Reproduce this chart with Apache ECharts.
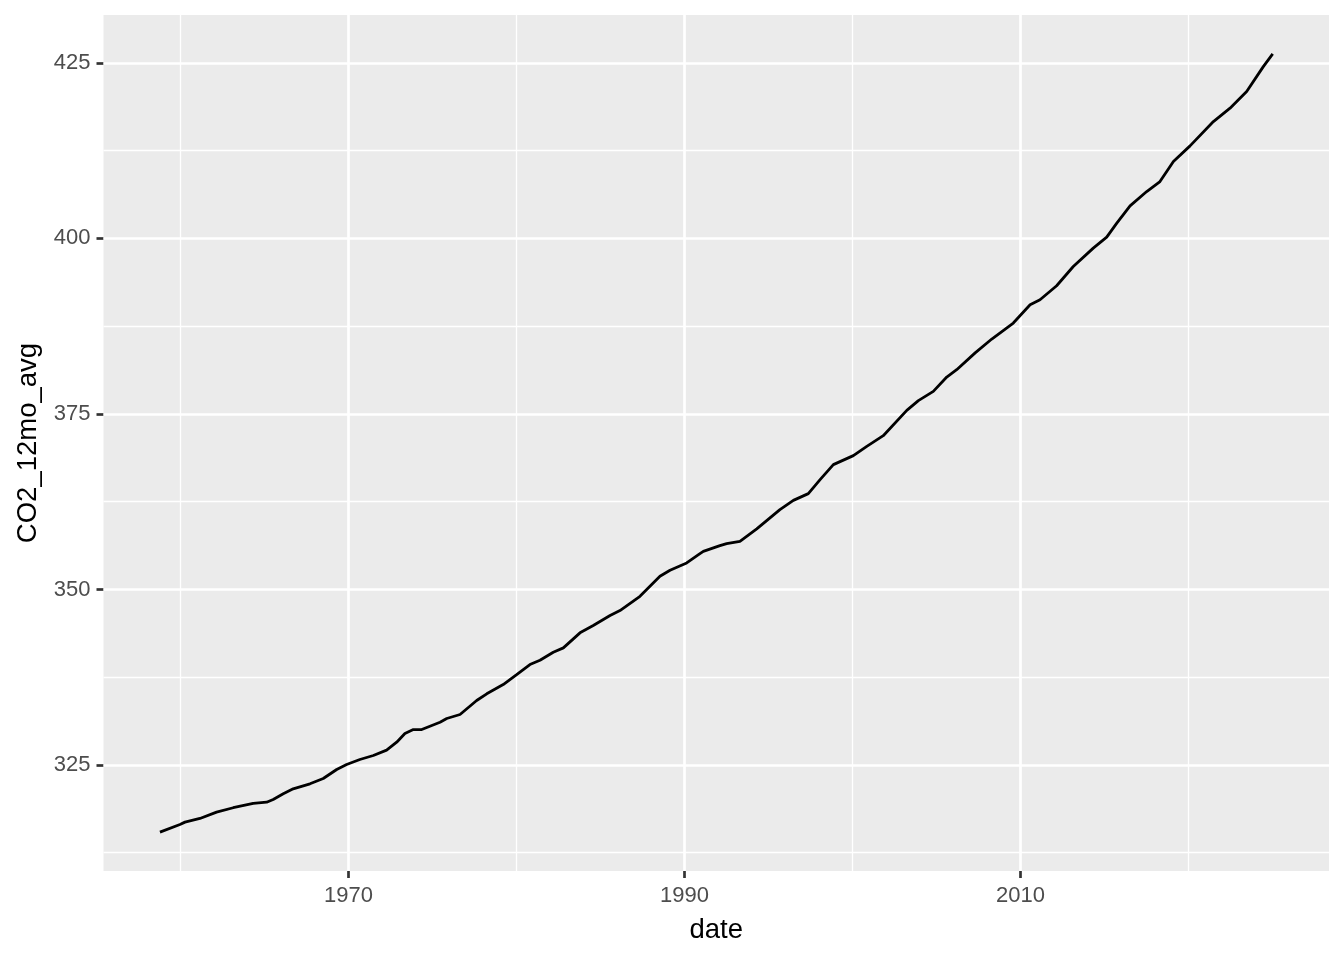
<!DOCTYPE html>
<html>
<head>
<meta charset="utf-8">
<script src="https://cdn.jsdelivr.net/npm/echarts@6/dist/echarts.min.js"></script>
<style>
html,body{margin:0;padding:0;background:#ffffff;}
#chart{width:1344px;height:960px;}
</style>
</head>
<body>
<div id="chart"></div>
<script>
// Decimal years
const years = [
  1958.78, 1959.97, 1960.27, 1961.16, 1962.15, 1963.14, 1964.33, 1965.13, 1965.52, 1966.12,
  1966.71, 1967.71, 1968.50, 1969.30, 1969.89, 1970.68, 1971.48, 1972.27, 1972.87, 1973.36,
  1973.86, 1974.36, 1974.85, 1975.45, 1975.85, 1976.64, 1977.63, 1978.23, 1979.21, 1980.01,
  1980.80, 1981.40, 1982.19, 1982.79, 1983.78, 1984.57, 1985.57, 1986.16, 1987.35, 1988.54,
  1989.14, 1990.13, 1990.92, 1991.12, 1992.11, 1992.51, 1993.30, 1994.30, 1995.68, 1996.48,
  1997.37, 1998.07, 1998.86, 2000.05, 2000.85, 2001.83, 2003.23, 2003.92, 2004.81, 2005.61,
  2006.20, 2007.30, 2008.29, 2009.57, 2010.57, 2011.16, 2012.15, 2013.14, 2014.33, 2015.13,
  2015.73, 2016.52, 2017.51, 2018.30, 2019.10, 2020.09, 2021.48, 2022.47, 2023.46, 2024.45,
  2025.01
];
// 12-month average CO2 (ppm)
const co2 = [
  315.43, 316.53, 316.86, 317.38, 318.28, 318.91, 319.52, 319.70, 320.09, 320.90,
  321.61, 322.32, 323.08, 324.36, 325.07, 325.78, 326.35, 327.11, 328.25, 329.48,
  330.05, 330.05, 330.52, 331.09, 331.62, 332.19, 334.18, 335.14, 336.46, 337.88,
  339.31, 339.92, 341.06, 341.68, 343.82, 344.86, 346.28, 346.99, 349.03, 351.88,
  352.73, 353.78, 355.11, 355.43, 356.25, 356.53, 356.86, 358.62, 361.37, 362.69,
  363.65, 365.64, 367.78, 369.06, 370.38, 371.90, 375.51, 376.89, 378.21, 380.26,
  381.30, 383.70, 385.67, 387.95, 390.55, 391.26, 393.26, 396.00, 398.62, 400.19,
  402.18, 404.64, 406.68, 408.10, 410.95, 413.18, 416.64, 418.55, 420.91, 424.47,
  426.28
];
const xTicks = [1970, 1990, 2010];
const xMinor = [1960, 1980, 2000, 2020];
const yTicks = [325, 350, 375, 400, 425];
const yMinor = [312.5, 337.5, 362.5, 387.5, 412.5];

const FONT = '"Liberation Sans", Arial, sans-serif';
const seriesData = years.map((y, i) => [y, co2[i]]);

const gridLines = [];
xMinor.forEach(v => gridLines.push({xAxis: v, lineStyle: {color: '#FFFFFF', width: 1.35, type: 'solid'}}));
yMinor.forEach(v => gridLines.push({yAxis: v, lineStyle: {color: '#FFFFFF', width: 1.35, type: 'solid'}}));
xTicks.forEach(v => gridLines.push({xAxis: v, lineStyle: {color: '#FFFFFF', width: 2.7, type: 'solid'}}));
yTicks.forEach(v => gridLines.push({yAxis: v, lineStyle: {color: '#FFFFFF', width: 2.7, type: 'solid'}}));

const chart = echarts.init(document.getElementById('chart'), null, {renderer: 'canvas'});
chart.setOption({
  animation: false,
  backgroundColor: '#FFFFFF',
  grid: {
    left: 103.5, right: 15, top: 15, bottom: 89,
    show: true, backgroundColor: '#EBEBEB', borderWidth: 0
  },
  xAxis: {
    type: 'value',
    min: 1955.42, max: 2028.36,
    axisLine: {show: false},
    splitLine: {show: false},
    axisTick: {show: true, customValues: xTicks, length: 7, lineStyle: {color: '#333333', width: 2.7}},
    axisLabel: {customValues: xTicks, margin: 14, fontSize: 22, color: '#4D4D4D', fontFamily: FONT,
      formatter: v => String(v)},
    name: 'date', nameLocation: 'middle', nameGap: 45,
    nameTextStyle: {fontSize: 27.5, color: '#000000', fontFamily: FONT}
  },
  yAxis: {
    type: 'value',
    min: 309.9, max: 431.82,
    axisLine: {show: false},
    splitLine: {show: false},
    axisTick: {show: true, customValues: yTicks, length: 7, lineStyle: {color: '#333333', width: 2.7}},
    axisLabel: {customValues: yTicks, margin: 13, fontSize: 22, color: '#4D4D4D', fontFamily: FONT,
      formatter: v => String(v)},
    name: 'CO2_12mo_avg', nameLocation: 'middle', nameGap: 61,
    nameTextStyle: {fontSize: 27.5, color: '#000000', fontFamily: FONT}
  },
  series: [
    {
      type: 'line', data: [], z: 1, silent: true,
      markLine: {silent: true, z: 1, zlevel: 0, symbol: ['none', 'none'], label: {show: false}, animation: false,
        emphasis: {disabled: true}, data: gridLines}
    },
    {
      type: 'line', data: seriesData, z: 10, showSymbol: false, symbol: 'none', smooth: false,
      lineStyle: {color: '#000000', width: 2.8}, silent: true
    }
  ]
});
</script>
</body>
</html>
